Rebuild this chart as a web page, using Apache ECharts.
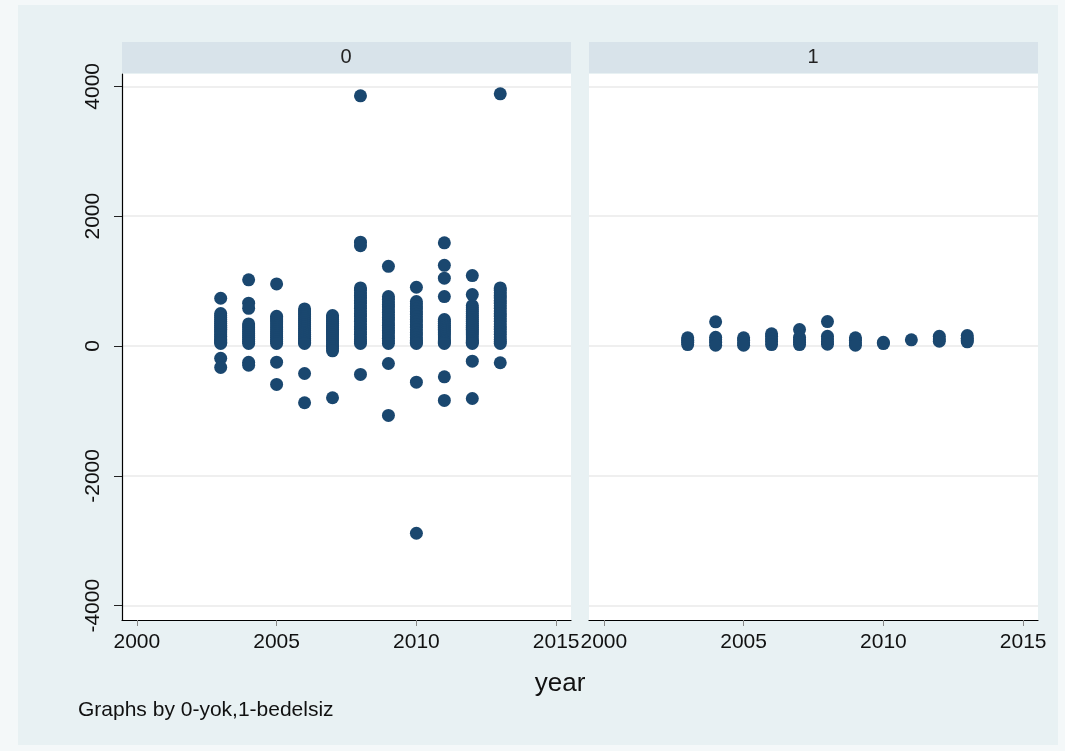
<!DOCTYPE html>
<html>
<head>
<meta charset="utf-8">
<script src="https://cdn.jsdelivr.net/npm/echarts@6/dist/echarts.min.js"></script>
<style>
html,body{margin:0;padding:0;background:#f4f8f9;}
#chart{width:1065px;height:751px;}
</style>
</head>
<body>
<div id="chart"></div>
<script>
// ---- data ----
const years = [2003, 2004, 2005, 2006, 2007, 2008, 2009, 2010, 2011, 2012, 2013];
const xTicks = [2000, 2005, 2010, 2015];
const yTicks = [-4000, -2000, 0, 2000, 4000];
const panelLabels = ['0', '1'];
const xTitle = 'year';
const noteText = 'Graphs by 0-yok,1-bedelsiz';

// panel "0"
const p0_2003 = [736, 500, 470, 440, 410, 380, 350, 320, 290, 260, 230, 200, 175, 150, 125, 100, 80, 60, 40, -190, -330];
const p0_2004 = [1020, 660, 580, 340, 310, 280, 250, 220, 190, 160, 130, 100, 70, 40, -250, -295];
const p0_2005 = [957, 458, 430, 400, 370, 340, 310, 280, 250, 220, 190, 160, 130, 100, 70, 40, -249, -592];
const p0_2006 = [572, 540, 510, 480, 450, 420, 390, 360, 330, 300, 270, 240, 210, 180, 150, 120, 90, 60, 40, -423, -874];
const p0_2007 = [469, 440, 410, 380, 350, 320, 290, 260, 230, 200, 170, 140, 110, 80, 50, 20, -10, -40, -74, -797];
const p0_2008 = [3854, 1600, 1546, 895, 860, 820, 780, 740, 700, 660, 620, 580, 540, 500, 460, 420, 380, 340, 300, 260, 220, 180, 140, 100, 70, 40, -438];
const p0_2009 = [1228, 762, 720, 680, 640, 600, 560, 520, 480, 440, 400, 360, 320, 280, 240, 200, 160, 120, 80, 40, -269, -1069];
const p0_2010 = [905, 685, 650, 610, 570, 530, 490, 450, 410, 370, 330, 290, 250, 210, 170, 130, 90, 60, 40, -557, -2884];
const p0_2011 = [1590, 1243, 1045, 762, 408, 380, 350, 320, 290, 260, 230, 200, 170, 140, 110, 80, 60, 40, -474, -838];
const p0_2012 = [1085, 792, 623, 590, 560, 530, 500, 470, 440, 410, 380, 350, 320, 290, 260, 230, 200, 170, 140, 110, 80, 60, 40, -234, -808];
const p0_2013 = [3885, 895, 860, 820, 780, 740, 700, 660, 620, 580, 540, 500, 460, 420, 380, 340, 300, 260, 220, 180, 140, 100, 70, 40, -258];

// panel "1"
const p1_2003 = [126, 90, 60, 23];
const p1_2004 = [372, 135, 100, 60, 12];
const p1_2005 = [126, 90, 50, 12];
const p1_2006 = [188, 150, 110, 70, 23];
const p1_2007 = [254, 135, 100, 60, 23];
const p1_2008 = [377, 151, 110, 70, 28];
const p1_2009 = [126, 90, 50, 12];
const p1_2010 = [58, 38];
const p1_2011 = [95];
const p1_2012 = [151, 110, 74];
const p1_2013 = [161, 120, 90, 65];

const panel0 = [p0_2003, p0_2004, p0_2005, p0_2006, p0_2007, p0_2008, p0_2009, p0_2010, p0_2011, p0_2012, p0_2013];
const panel1 = [p1_2003, p1_2004, p1_2005, p1_2006, p1_2007, p1_2008, p1_2009, p1_2010, p1_2011, p1_2012, p1_2013];

function toPoints(lists) {
  const out = [];
  lists.forEach((vals, i) => vals.forEach(v => out.push([years[i], v])));
  return out;
}

// ---- styling / layout ----
const FONT = '"Liberation Sans", Arial, sans-serif';
const TXT = '#111111';
const MARK = '#1a476f';
const BG = '#e8f1f3';
const STRIP = '#d8e3ea';
const GRIDLINE = '#eaeaea';
const X_MIN = 1999.47, X_MAX = 2015.53;
const Y_MIN = -4220, Y_MAX = 4190;
const grids = [
  { left: 122, top: 74, width: 449, height: 546 },
  { left: 589, top: 74, width: 449, height: 546 }
];
const plain = v => String(v);

function xAxisCfg(gi) {
  return {
    type: 'value', gridIndex: gi, min: X_MIN, max: X_MAX,
    axisLine: { show: true, onZero: false, lineStyle: { color: '#000', width: 1.2 } },
    axisTick: { show: true, customValues: xTicks, length: 6, lineStyle: { color: '#888' } },
    axisLabel: { customValues: xTicks, formatter: plain, margin: 12, color: TXT, fontSize: 21, fontFamily: FONT },
    splitLine: { show: false }
  };
}
function yAxisCfg(gi, showAxis) {
  return {
    type: 'value', gridIndex: gi, min: Y_MIN, max: Y_MAX,
    axisLine: { show: showAxis, onZero: false, lineStyle: { color: '#000', width: 1.2 } },
    axisTick: { show: showAxis, customValues: yTicks, length: 8, lineStyle: { color: '#222' } },
    axisLabel: { show: showAxis, customValues: yTicks, formatter: plain, rotate: 90, margin: 18, color: TXT, fontSize: 21, fontFamily: FONT },
    splitLine: { show: true, lineStyle: { color: GRIDLINE, width: 1.5 } }
  };
}

const chart = echarts.init(document.getElementById('chart'), null, { renderer: 'canvas' });
chart.setOption({
  backgroundColor: '#f4f8f9',
  animation: false,
  graphic: [
    { type: 'rect', shape: { x: 18, y: 5, width: 1040, height: 740 }, style: { fill: BG }, z: -10 },
    { type: 'rect', shape: { x: 122, y: 42, width: 449, height: 31 }, style: { fill: STRIP }, z: -5 },
    { type: 'rect', shape: { x: 589, y: 42, width: 449, height: 31 }, style: { fill: STRIP }, z: -5 },
    { type: 'text', x: 346, y: 57, style: { text: panelLabels[0], fill: '#222', font: '20px ' + FONT, textAlign: 'center', textVerticalAlign: 'middle' } },
    { type: 'text', x: 813, y: 57, style: { text: panelLabels[1], fill: '#222', font: '20px ' + FONT, textAlign: 'center', textVerticalAlign: 'middle' } },
    { type: 'text', x: 560, y: 684, style: { text: xTitle, fill: TXT, font: '26px ' + FONT, textAlign: 'center', textVerticalAlign: 'middle' } },
    { type: 'text', x: 78, y: 710, style: { text: noteText, fill: TXT, font: '21px ' + FONT, textAlign: 'left', textVerticalAlign: 'middle' } }
  ],
  grid: grids.map(g => Object.assign({ show: true, backgroundColor: '#ffffff', borderWidth: 0 }, g)),
  xAxis: [xAxisCfg(0), xAxisCfg(1)],
  yAxis: [yAxisCfg(0, true), yAxisCfg(1, false)],
  series: [
    { type: 'scatter', xAxisIndex: 0, yAxisIndex: 0, data: toPoints(panel0), symbol: 'circle', symbolSize: 13, itemStyle: { color: MARK, opacity: 1 } },
    { type: 'scatter', xAxisIndex: 1, yAxisIndex: 1, data: toPoints(panel1), symbol: 'circle', symbolSize: 13, itemStyle: { color: MARK, opacity: 1 } }
  ]
});
</script>
</body>
</html>
